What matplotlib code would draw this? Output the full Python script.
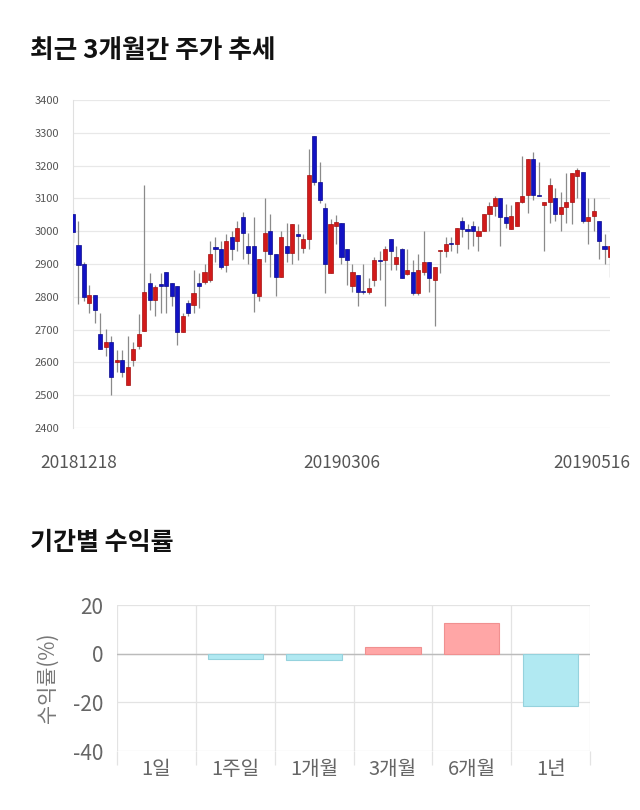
import matplotlib
matplotlib.use("Agg")
import matplotlib.pyplot as plt
import matplotlib.transforms as mtransforms
import numpy as np

plt.rcParams['font.family'] = ['Noto Sans CJK KR', 'DejaVu Sans']

# ---- candlestick data (2018-12-18 .. 2019-05-16) ----
opens = [3052, 2957, 2899, 2780, 2806, 2687, 2647, 2662, 2601, 2606,
         2531, 2606, 2651, 2697, 2842, 2791, 2838, 2875, 2842, 2832,
         2692, 2781, 2776, 2842, 2846, 2850, 2951, 2945, 2896, 2981,
         2971, 3042, 2956, 2956, 2801, 2941, 3001, 2931, 2860, 2956,
         2935, 2991, 2950, 2976, 3290, 3151, 3070, 2872, 3016, 3026,
         2945, 2832, 2866, 2818, 2816, 2851, 2911, 2911, 2976, 2901,
         2945, 2871, 2876, 2811, 2876, 2906, 2851, 2939, 2941, 2965,
         2960, 3032, 3006, 3016, 2986, 3001, 3052, 3077, 3101, 3042,
         3006, 3016, 3090, 3111, 3220, 3111, 3080, 3090, 3101, 3052,
         3075, 3090, 3167, 3182, 3032, 3047, 3032, 2956, 2921]
closes = [2999, 2896, 2800, 2806, 2761, 2641, 2661, 2555, 2607, 2572,
          2587, 2641, 2686, 2816, 2791, 2831, 2833, 2832, 2801, 2692,
          2742, 2752, 2812, 2832, 2876, 2931, 2945, 2890, 2971, 2945,
          3011, 2996, 2935, 2811, 2916, 2996, 2931, 2860, 2981, 2935,
          3021, 2986, 2976, 3172, 3151, 3095, 2901, 3021, 3029, 2921,
          2911, 2876, 2816, 2814, 2826, 2911, 2908, 2945, 2941, 2921,
          2856, 2881, 2811, 2881, 2906, 2856, 2891, 2943, 2960, 2960,
          3011, 3006, 3001, 3001, 3001, 3052, 3077, 3101, 3042, 3026,
          3047, 3090, 3106, 3220, 3111, 3106, 3090, 3141, 3052, 3075,
          3090, 3177, 3187, 3032, 3042, 3062, 2971, 2945, 2956]
highs = [3065, 3032, 2905, 2837, 2806, 2752, 2702, 2679, 2637, 2637,
         2681, 2662, 2747, 3141, 2872, 2837, 2872, 2875, 2842, 2832,
         2752, 2791, 2882, 2872, 2899, 2969, 2981, 2969, 2991, 3001,
         3032, 3060, 2996, 3042, 2916, 3101, 3052, 2931, 3001, 3026,
         3021, 3021, 2991, 3251, 3290, 3212, 3085, 3037, 3050, 3026,
         2945, 2901, 2866, 2901, 2857, 2921, 2941, 2956, 2976, 2956,
         2950, 2945, 2911, 2931, 3001, 2906, 2891, 2943, 2981, 2981,
         3011, 3042, 3021, 3031, 3016, 3052, 3090, 3106, 3101, 3082,
         3080, 3090, 3230, 3220, 3241, 3210, 3090, 3161, 3131, 3120,
         3177, 3177, 3192, 3182, 3101, 3101, 3032, 2991, 2956]
lows = [2966, 2778, 2786, 2752, 2720, 2641, 2618, 2501, 2570, 2555,
        2531, 2588, 2641, 2697, 2760, 2740, 2752, 2752, 2773, 2653,
        2692, 2740, 2752, 2766, 2840, 2845, 2906, 2885, 2876, 2911,
        2941, 2916, 2901, 2755, 2786, 2906, 2860, 2801, 2860, 2906,
        2901, 2911, 2935, 2945, 3140, 3085, 2811, 2872, 2960, 2901,
        2837, 2816, 2771, 2810, 2810, 2832, 2851, 2771, 2881, 2881,
        2856, 2866, 2806, 2806, 2866, 2816, 2712, 2872, 2921, 2941,
        2935, 2981, 2945, 2955, 2940, 3001, 3001, 3047, 2956, 3011,
        3006, 3016, 3085, 3057, 3095, 3106, 2941, 3026, 3032, 3001,
        3026, 3021, 3101, 3026, 2960, 3001, 2916, 2901, 2860]
date_labels = ['20181218', '20190306', '20190516']
date_label_idx = [0, 49, 98]
price_ticks = [2400, 2500, 2600, 2700, 2800, 2900, 3000, 3100, 3200, 3300, 3400]

# ---- return data ----
periods = ['1일', '1주일', '1개월', '3개월', '6개월', '1년']
returns = [0.0, -2.2, -2.5, 2.9, 12.5, -21.4]

W, H = 640, 810
fig = plt.figure(figsize=(W / 100, H / 100), dpi=100)
fig.patch.set_facecolor('white')

def px(x0, y0, x1, y1):
    return [x0 / W, 1 - y1 / H, (x1 - x0) / W, (y1 - y0) / H]

# titles
fig.text(30 / W, 1 - 50 / H, '최근 3개월간 주가 추세', fontsize=18.5, fontweight='bold',
         va='center', ha='left', color='#111111')
fig.text(30 / W, 1 - 543 / H, '기간별 수익률', fontsize=18, fontweight='bold',
         va='center', ha='left', color='#111111')

# ---- candlestick axes ----
ax = fig.add_axes(px(73, 100, 610, 428))
n = len(opens)
idx = np.arange(n)
up_c, up_e = '#d21a1a', '#a51010'
dn_c, dn_e = '#1212c4', '#0a0a8c'
for i in idx:
    o, c, h, l = opens[i], closes[i], highs[i], lows[i]
    ax.vlines(i, l, h, color='#8a8a8a', lw=0.9, zorder=2)
    up = c >= o
    bottom = min(o, c)
    height = max(abs(c - o), 3)
    ax.bar(i, height, bottom=bottom, width=0.75,
           color=up_c if up else dn_c, edgecolor=up_e if up else dn_e,
           linewidth=0.5, zorder=3)
ax.set_xlim(0, n - 1)
ax.set_ylim(2400, 3400)
ax.set_yticks(price_ticks)
ax.set_yticklabels([str(t) for t in price_ticks], fontsize=8, color='#555555')
ax.tick_params(axis='y', length=0, pad=10)
ax.grid(axis='y', color='#e8e8e8', lw=0.9, zorder=0)
for s in ['top', 'right', 'bottom']:
    ax.spines[s].set_visible(False)
ax.spines['left'].set_color('#e0e0e0')
ax.set_xticks(date_label_idx)
ax.set_xticklabels(date_labels, fontsize=12.5, color='#555555')
ax.tick_params(axis='x', length=0, pad=19)
labs = ax.get_xticklabels()
offs = [6, 0, -18]
for lab, dx in zip(labs, offs):
    lab.set_transform(lab.get_transform() +
                      mtransforms.ScaledTranslation(dx / 100, 0, fig.dpi_scale_trans))

# ---- returns bar axes ----
bx = fig.add_axes(px(117, 605, 590, 751))
xpos = np.arange(len(periods))
cols = ['#ffa6a6' if v > 0 else '#b1e9f2' for v in returns]
ecols = ['#f09090' if v > 0 else '#95d2dd' for v in returns]
bars = bx.bar(xpos, returns, width=0.7, color=cols, edgecolor=ecols, linewidth=0.8, zorder=3)
for b, v in zip(bars, returns):
    if v == 0:
        b.set_visible(False)
bx.set_xlim(-0.5, len(periods) - 0.5)
bx.set_ylim(-40, 20)
bx.set_yticks([-40, -20, 0, 20])
bx.set_yticklabels(['-40', '-20', '0', '20'], fontsize=15, color='#666666')
bx.tick_params(axis='y', length=0, pad=10)
bx.set_xticks(xpos)
bx.set_xticklabels(periods, fontsize=14.5, color='#666666')
bx.tick_params(axis='x', length=0, pad=6)
bx.set_xticks(np.arange(-0.5, len(periods), 1.0), minor=True)
bx.tick_params(axis='x', which='minor', length=10, color='#e3e3e3', width=0.9)
bx.grid(axis='y', color='#e3e3e3', lw=0.9, zorder=0)
bx.grid(axis='x', which='minor', color='#e3e3e3', lw=0.9, zorder=0)
bx.axhline(0, color='#bbbbbb', lw=1.0, zorder=2)
for s in bx.spines.values():
    s.set_visible(False)
bx.set_ylabel('수익률(%)', fontsize=15, color='#777777', labelpad=10)

fig.savefig('out.png', dpi=100, facecolor='white')
